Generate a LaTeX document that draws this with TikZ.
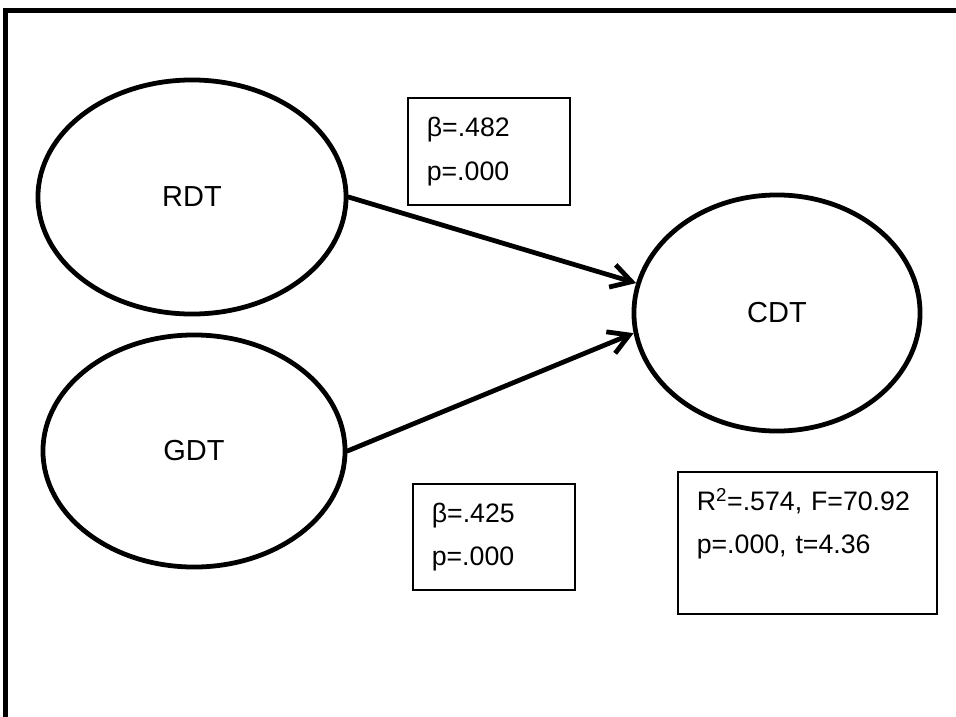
\documentclass[tikz,border=0pt]{standalone}
\usepackage{fontspec}
\setmainfont{Liberation Sans}
\usetikzlibrary{shapes.geometric,arrows.meta}

\tikzset{
    construct/.style={draw, ellipse, line width=3.4pt, inner sep=0pt,
        font=\fontsize{20.6pt}{24pt}\selectfont},
    statbox/.style={draw, rectangle, line width=0.9pt, inner xsep=0.47cm,
        align=left, font=\fontsize{19pt}{31pt}\selectfont},
    path arrow/.style={line width=3.4pt, line cap=round,
        -{Straight Barb[length=0.5cm, width=0.58cm, line width=3.4pt]}}
}

\begin{document}
\begin{tikzpicture}[x=0.025cm, y=-0.025cm]

    % Keep the page the size of the reference
    \useasboundingbox (0,0) rectangle (956,717);

    % Frame (only the top and left edges show)
    \coordinate (FL) at (5.5,717);
    \coordinate (FC) at (5.5,10.5);
    \coordinate (FR) at (956,10.5);
    \draw[line width=3.6pt] (FL) -- (FC) -- (FR);

    % Predictors and outcome
    \node[construct, minimum width=7.7cm, minimum height=5.85cm] (RDT) at (192,197) {RDT};
    \node[construct, minimum width=7.55cm, minimum height=5.8cm] (GDT) at (194,451) {GDT};
    \node[construct, minimum width=7.15cm, minimum height=5.9cm] (CDT) at (777,313) {CDT};

    % Paths into CDT
    \draw[path arrow] (RDT.east) -- (CDT.168);
    \draw[path arrow] (GDT.east) -- (CDT.188);

    % Coefficient boxes
    \node[statbox, text width=3.11cm, minimum height=2.675cm] (RDTcoef) at (489,151.5)
        {β=.482\\p=.000};
    \node[statbox, text width=3.11cm, minimum height=2.65cm] (GDTcoef) at (494,537)
        {β=.425\\p=.000};

    % Model summary
    \node[statbox, text width=5.535cm, minimum height=3.55cm] (model) at (807.5,543)
        {R\textsuperscript{2}=.574, F=70.92\\p=.000, t=4.36\\\mbox{}};

\end{tikzpicture}
\end{document}
